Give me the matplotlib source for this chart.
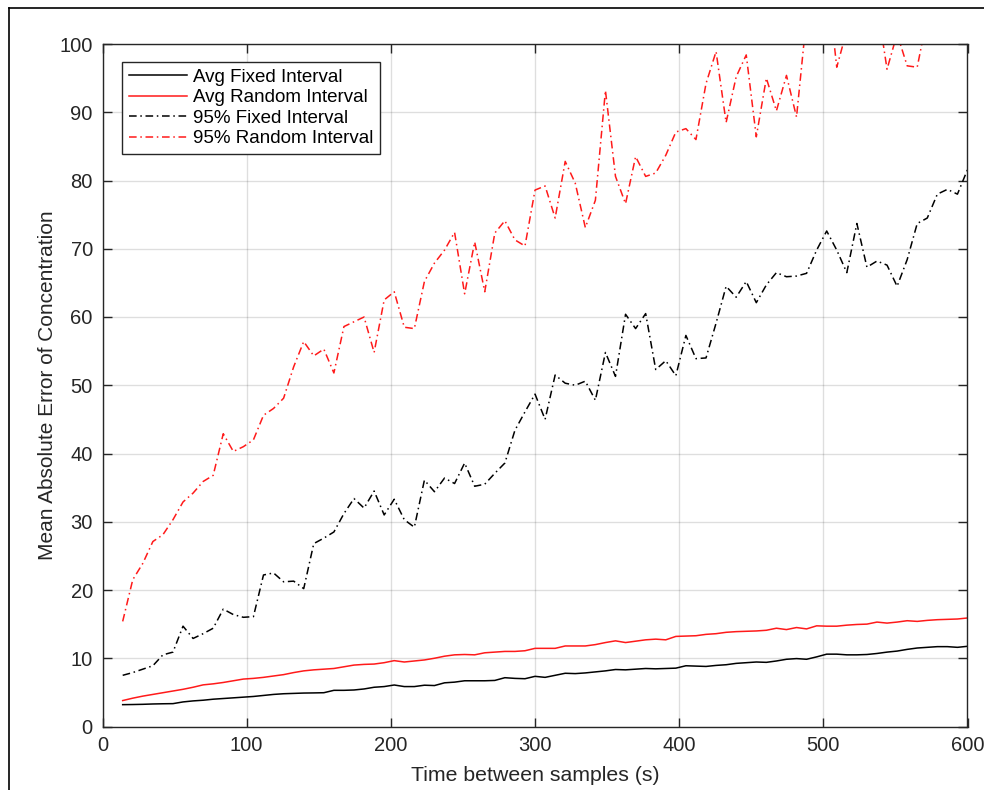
import numpy as np
import matplotlib
matplotlib.use("Agg")
import matplotlib.pyplot as plt
from matplotlib.lines import Line2D

plt.rcParams['font.family'] = ['Liberation Sans', 'DejaVu Sans']

# Sampling interval (s): 85 evenly spaced settings from 14 s to 600 s
time_s = np.linspace(14, 600, 85)

avg_fixed = [
    3.20, 3.22, 3.25, 3.30, 3.33, 3.35, 3.60, 3.75, 3.85, 4.00,
    4.10, 4.20, 4.30, 4.40, 4.55, 4.70, 4.80, 4.85, 4.90, 4.92,
    4.95, 5.30, 5.30, 5.35, 5.50, 5.75, 5.85, 6.08, 5.85, 5.85,
    6.05, 6.00, 6.40, 6.50, 6.70, 6.70, 6.70, 6.75, 7.15, 7.05,
    7.00, 7.35, 7.20, 7.50, 7.80, 7.75, 7.85, 8.00, 8.15, 8.35,
    8.30, 8.40, 8.50, 8.45, 8.50, 8.55, 8.90, 8.85, 8.80, 8.95,
    9.05, 9.25, 9.35, 9.45, 9.40, 9.60, 9.85, 9.95, 9.85, 10.20,
    10.60, 10.60, 10.50, 10.50, 10.55, 10.70, 10.90, 11.05, 11.30, 11.50,
    11.60, 11.70, 11.70, 11.60, 11.75,
]

avg_random = [
    3.80, 4.15, 4.45, 4.70, 4.95, 5.20, 5.45, 5.75, 6.10, 6.25,
    6.45, 6.70, 6.95, 7.05, 7.20, 7.40, 7.60, 7.90, 8.15, 8.30,
    8.40, 8.50, 8.75, 9.00, 9.10, 9.15, 9.35, 9.65, 9.45, 9.60,
    9.75, 10.00, 10.30, 10.50, 10.55, 10.50, 10.80, 10.90, 11.00, 11.00,
    11.10, 11.45, 11.45, 11.45, 11.80, 11.80, 11.80, 12.00, 12.30, 12.55,
    12.30, 12.50, 12.70, 12.80, 12.70, 13.20, 13.25, 13.30, 13.50, 13.60,
    13.80, 13.90, 13.95, 14.00, 14.10, 14.40, 14.20, 14.50, 14.30, 14.75,
    14.70, 14.70, 14.85, 14.95, 15.00, 15.30, 15.15, 15.30, 15.50, 15.40,
    15.55, 15.65, 15.70, 15.75, 15.90,
]

p95_fixed = [
    7.5, 7.9, 8.4, 8.9, 10.5, 10.9, 14.7, 12.9, 13.6, 14.4,
    17.2, 16.4, 16.0, 16.1, 22.2, 22.5, 21.2, 21.3, 20.2, 26.8,
    27.6, 28.5, 31.2, 33.4, 32.0, 34.5, 31.0, 33.3, 30.3, 29.2,
    36.1, 34.4, 36.4, 35.6, 38.6, 35.2, 35.5, 37.1, 38.6, 43.4,
    46.1, 48.7, 45.0, 51.5, 50.3, 50.0, 50.6, 47.8, 54.8, 51.3,
    60.4, 58.3, 60.5, 52.3, 53.6, 51.4, 57.3, 53.9, 54.0, 59.1,
    64.5, 62.9, 65.2, 62.1, 64.7, 66.5, 65.9, 66.0, 66.4, 69.8,
    72.6, 69.8, 66.5, 73.7, 67.3, 68.2, 67.6, 64.5, 68.4, 73.7,
    74.5, 78.0, 78.7, 78.0, 81.6,
]

p95_random = [
    15.4, 21.5, 23.9, 27.1, 28.1, 30.3, 32.9, 34.2, 35.9, 36.8,
    42.9, 40.3, 41.0, 42.0, 45.6, 46.6, 48.1, 52.7, 56.4, 54.3,
    55.3, 51.8, 58.6, 59.3, 60.0, 54.8, 62.5, 63.7, 58.5, 58.3,
    65.2, 67.9, 69.8, 72.4, 63.4, 71.0, 63.7, 72.3, 74.1, 71.3,
    70.4, 78.6, 79.2, 74.5, 82.8, 79.6, 73.1, 77.1, 93.2, 80.6,
    76.6, 83.5, 80.6, 81.1, 83.7, 87.1, 87.6, 86.0, 94.2, 98.9,
    88.5, 95.2, 98.4, 86.4, 95.0, 90.2, 95.4, 89.3, 104.0, 108.0,
    110.0, 96.6, 102.0, 106.0, 105.0, 106.0, 96.3, 101.5, 96.8, 96.6,
    104.0, 107.0, 109.0, 108.0, 111.0,
]

series_labels = ["Avg Fixed Interval", "Avg Random Interval",
                 "95% Fixed Interval", "95% Random Interval"]
x_ticks = [0, 100, 200, 300, 400, 500, 600]
y_ticks = [0, 10, 20, 30, 40, 50, 60, 70, 80, 90, 100]

fig = plt.figure(figsize=(9.84, 7.90), dpi=100)
ax = fig.add_axes([102.5 / 984, 1 - 726.5 / 790, 865 / 984, 682.5 / 790])

dashdot = (0, (5.0, 2.4, 1.0, 2.4))
ax.plot(time_s, avg_fixed, color="#000000", lw=1.1, label=series_labels[0])
ax.plot(time_s, avg_random, color="#ff1a1a", lw=1.1, label=series_labels[1])
ax.plot(time_s, p95_fixed, color="#000000", lw=1.1, linestyle=dashdot,
        label=series_labels[2])
ax.plot(time_s, p95_random, color="#ff1a1a", lw=1.1, linestyle=dashdot,
        label=series_labels[3])

ax.set_xlim(0, 600)
ax.set_ylim(0, 100)
ax.set_xticks(x_ticks)
ax.set_yticks(y_ticks)
ax.tick_params(direction="in", length=6.2, width=1.0, colors="#262626",
               labelsize=14.5, top=True, right=True, labelcolor="#262626",
               pad=7)
ax.grid(True, color="#000000", alpha=0.13, lw=1.0)
for sp in ax.spines.values():
    sp.set_color("#262626")
    sp.set_linewidth(1.0)

ax.set_xlabel("Time between samples (s)", fontsize=15.3, color="#262626",
              labelpad=8)
ax.set_ylabel("Mean Absolute Error of Concentration", fontsize=15,
              color="#262626", labelpad=1.5)

leg = ax.legend(loc="upper left", bbox_to_anchor=(0.0225, 0.9736),
                fontsize=13.5, frameon=True, fancybox=False, framealpha=1.0,
                edgecolor="#262626", handlelength=3.1, handletextpad=0.35,
                labelspacing=0.18, borderpad=0.35, borderaxespad=0.0)
leg.get_frame().set_linewidth(1.0)

# Outer frame lines along the top and left of the figure
fig.add_artist(Line2D([9 / 984, 1.0], [1 - 8 / 790, 1 - 8 / 790],
                      transform=fig.transFigure, color="#000000", lw=1.2))
fig.add_artist(Line2D([9 / 984, 9 / 984], [0.0, 1 - 8 / 790],
                      transform=fig.transFigure, color="#000000", lw=1.2))

fig.savefig("out.png", dpi=100, facecolor="white")
